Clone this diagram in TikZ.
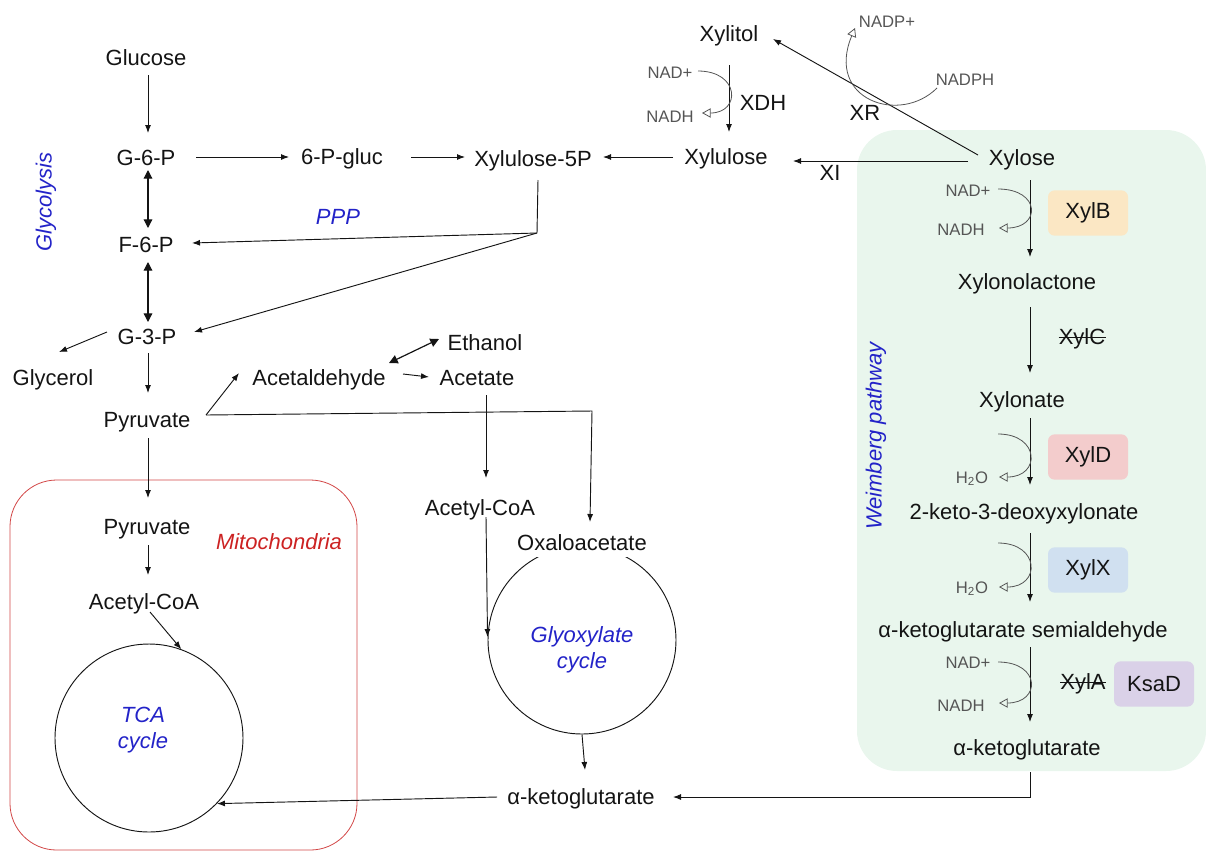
\documentclass[tikz,border=0pt]{standalone}
\usepackage{fontspec}
\setmainfont{Liberation Sans}
\usetikzlibrary{arrows.meta,calc}
\definecolor{ink}{RGB}{20,20,20}
\definecolor{cofgray}{RGB}{85,85,85}
\definecolor{pblue}{RGB}{35,35,200}
\definecolor{mred}{RGB}{204,34,34}
\definecolor{mbox}{RGB}{210,70,70}
\definecolor{wgreen}{RGB}{233,246,237}
\definecolor{cB}{RGB}{251,231,196}
\definecolor{cD}{RGB}{243,204,204}
\definecolor{cX}{RGB}{208,224,240}
\definecolor{cK}{RGB}{218,209,232}
\newcommand\bigtxt{\fontsize{16.5}{19.5}\selectfont}
\newcommand\smalltxt{\fontsize{12.5}{14}\selectfont}
\begin{document}
\begin{tikzpicture}[x=0.75pt,y=-0.75pt,
  met/.style={font=\bigtxt, inner sep=0pt, text height=11.8pt, text depth=0pt, text=ink},
  cof/.style={font=\smalltxt, inner sep=0pt, text height=9pt, text depth=0pt, text=cofgray},
  lab/.style={font=\bigtxt\itshape, inner sep=0pt, text=pblue},
  arr/.style={draw=ink, line width=0.7pt, -{Latex[length=6pt,width=4.5pt]}},
  dbl/.style={draw=ink, line width=0.9pt, {Triangle[length=6.5pt,width=6.5pt]}-{Triangle[length=6.5pt,width=6.5pt]}},
  cofarr/.style={draw=cofgray, line width=0.6pt, -{Triangle[open,length=6.5pt,width=7pt]}},
  enz/.style={font=\bigtxt, rounded corners=5pt, minimum width=60pt, minimum height=34pt, inner sep=0pt, text=ink},
  cyc/.style={circle, draw=ink, line width=0.7pt, minimum size=141pt, inner sep=0pt},
  strike/.style={draw=ink, line width=0.7pt},
]
\useasboundingbox (0,0) rectangle (1206,851);

% background regions
\fill[wgreen, rounded corners=30pt] (857,130) rectangle (1206,771);
\draw[mbox, line width=0.6pt, rounded corners=35pt] (10,480) rectangle (357,850);

% metabolites
\node[met] (glucose) at (146,58) {Glucose};
\node[met] (g6p) at (146,158) {G-6-P};
\node[met] (pgluc) at (342,157) {6-P-gluc};
\node[met] (xyl5p) at (533,159) {Xylulose-5P};
\node[met] (xylulose) at (726,157) {Xylulose};
\node[met] (xylitol) at (729,34) {Xylitol};
\node[met] (xylose) at (1022,158) {Xylose};
\node[met] (f6p) at (146,245) {F-6-P};
\node[met] (g3p) at (147,337) {G-3-P};
\node[met] (glycerol) at (53,378) {Glycerol};
\node[met] (pyr) at (147,420) {Pyruvate};
\node[met] (acald) at (319,378) {Acetaldehyde};
\node[met] (acetate) at (477,378) {Acetate};
\node[met] (ethanol) at (485,343) {Ethanol};
\node[met] (acoa) at (480,508) {Acetyl-CoA};
\node[cyc] (gly) at (582,640) {};
\node[met, fill=white, text depth=4pt, inner xsep=2pt, inner ysep=1pt] (oaa) at (582,545.5) {Oxaloacetate};
\node[lab, align=center] (glytxt) at (582,650) {Glyoxylate\\cycle};
\node[met] (akg) at (581,797) {α-ketoglutarate};
\node[met] (pyrm) at (147,527) {Pyruvate};
\node[font=\bigtxt\itshape, text=mred, inner sep=0pt] (mito) at (279,542) {Mitochondria};
\node[met] (acm) at (144,602) {Acetyl-CoA};
\node[cyc] (tca) at (149,738) {};
\node[lab, align=center] (tcatxt) at (143,730) {TCA\\cycle};

% Weimberg chain
\node[met] (xlac) at (1027,282) {Xylonolactone};
\node[met] (xlon) at (1022,400) {Xylonate};
\node[met] (kdx) at (1024,512) {2-keto-3-deoxyxylonate};
\node[met] (aksa) at (1023,630) {α-ketoglutarate semialdehyde};
\node[met] (akgw) at (1027,748) {α-ketoglutarate};

% enzymes and labels
\node[met] (xdh) at (763,103) {XDH};
\node[met] (xr) at (865,113) {XR};
\node[met] (xi) at (830,173) {XI};
\node[lab] (ppp) at (338,217) {PPP};
\node[lab, rotate=90] (glyc) at (46,202) {Glycolysis};
\node[lab, rotate=90] (weim) at (876,436) {Weimberg pathway};
\node[met] (xylc) at (1082,337) {XylC};
\draw[strike] (xylc.west) -- (xylc.east);
\node[met] (xyla) at (1083,682) {XylA};
\draw[strike] (xyla.west) -- (xyla.east);
\node[enz, fill=cB] (xylB) at (1088,213) {XylB};
\node[enz, fill=cD] (xylD) at (1088,457) {XylD};
\node[enz, fill=cX] (xylX) at (1088,570) {XylX};
\node[enz, fill=cK] (ksaD) at (1154,684) {KsaD};

% cofactors
\node[cof] (nadA) at (670,72) {NAD+};
\node[cof] (nadhA) at (670,116) {NADH};
\node[cof] (nadph) at (965,79) {NADPH};
\node[cof] (nadpp) at (887,21) {NADP+};
\node[cof] (nadB) at (968,190) {NAD+};
\node[cof] (nadhB) at (961,229) {NADH};
\node[cof] (h2oD) at (972,477) {H\textsubscript{2}O};
\node[cof] (h2oX) at (972,587) {H\textsubscript{2}O};
\node[cof] (nadK) at (968,662) {NAD+};
\node[cof] (nadhK) at (961,705) {NADH};
\coordinate (inD) at (998,434);
\coordinate (inX) at (998,543);

% glycolysis / PPP connectors
\draw[arr] ($(glucose)+(2,17)$) -- ($(g6p)+(2,-25)$);
\draw[dbl] ($(g6p)+(2,12)$) -- ($(f6p)+(2,-17)$);
\draw[dbl] ($(f6p)+(2,17)$) -- ($(g3p)+(1,-15)$);
\draw[arr] ($(g6p)+(50,-1)$) -- ($(pgluc)+(-53,0)$);
\draw[arr] ($(pgluc)+(69,0)$) -- ($(xyl5p)+(-68,-2)$);
\draw[arr] ($(xylulose)+(-53,0)$) -- ($(xyl5p)+(70,-2)$);
\draw[arr] ($(xylose)+(-54,3)$) -- ($(xylulose)+(67,4)$);
\draw[arr] ($(xylose)+(-44,-3)$) -- ($(xylitol)+(44,5)$);
\draw[arr] ($(xylitol)+(0,31)$) -- ($(xylulose)+(3,-25)$);
\draw[cofarr] ($(nadA)+(28,-1)$) .. controls +(42,0) and +(39,0) .. ($(nadhA)+(32,-3)$);
\draw[cofarr] ($(nadph)+(-28,9)$) .. controls +(-37,37) and +(-30,72) .. ($(nadpp)+(-32,7)$);
\coordinate (br) at (537,233);
\draw[ink, line width=0.7pt] ($(xyl5p)+(5,21)$) -- (br);
\draw[arr] (br) -- ($(f6p)+(46,-2)$);
\draw[arr] (br) -- ($(g3p)+(47,-5)$);
\draw[arr] ($(g3p)+(-40,-5)$) -- ($(glycerol)+(6,-26)$);
\draw[arr] ($(g3p)+(1,16)$) -- ($(pyr)+(1,-27)$);
\draw[arr] ($(pyr)+(59,-5)$) -- ($(acald)+(-80,-5)$);
\coordinate (cpyr) at (592,411);
\draw[arr] ($(pyr)+(59,-5)$) -- (cpyr) -- ($(oaa)+(8,-23.5)$);
\draw[arr] ($(acald)+(84,-4)$) -- ($(acetate)+(-48,-1)$);
\draw[dbl] ($(acald)+(70,-15)$) -- ($(ethanol)+(-46,-4)$);
\draw[arr] ($(acetate)+(9,17)$) -- ($(acoa)+(6,-30)$);
\draw[arr] ($(acoa)+(6,9)$) -- ($(gly.west)+(0,-3)$);
\draw[arr] (gly.south) -- ($(akg)+(4,-27)$);
\draw[arr] ($(akgw)+(3,24)$) |- ($(akg)+(92,0)$);
\draw[arr] ($(akg)+(-84,0)$) -- (tca.-44);
\draw[arr] ($(pyr)+(1,18)$) -- ($(pyrm)+(1,-29)$);
\draw[arr] ($(pyrm)+(1,18)$) -- ($(acm)+(4,-27)$);
\draw[arr] ($(acm)+(6,10)$) -- (tca.70);

% Weimberg connectors
\draw[arr] ($(xylose)+(8,22)$) -- ($(xlac)+(3,-25)$);
\draw[arr] ($(xlac)+(3,25)$) -- ($(xlon)+(8,-27)$);
\draw[arr] ($(xlon)+(8,18)$) -- ($(kdx)+(6,-27)$);
\draw[arr] ($(kdx)+(6,21)$) -- ($(aksa)+(7,-28)$);
\draw[arr] ($(aksa)+(7,17)$) -- ($(akgw)+(3,-26)$);
\draw[cofarr] ($(nadB)+(30,-1)$) .. controls +(43,0) and +(42,0) .. ($(nadhB)+(38,-1)$);
\draw[cofarr] (inD) .. controls +(42,0) and +(42,0) .. ($(h2oD)+(27,0)$);
\draw[cofarr] (inX) .. controls +(42,0) and +(42,0) .. ($(h2oX)+(27,0)$);
\draw[cofarr] ($(nadK)+(30,0)$) .. controls +(43,0) and +(42,0) .. ($(nadhK)+(38,-2)$);
\end{tikzpicture}
\end{document}
